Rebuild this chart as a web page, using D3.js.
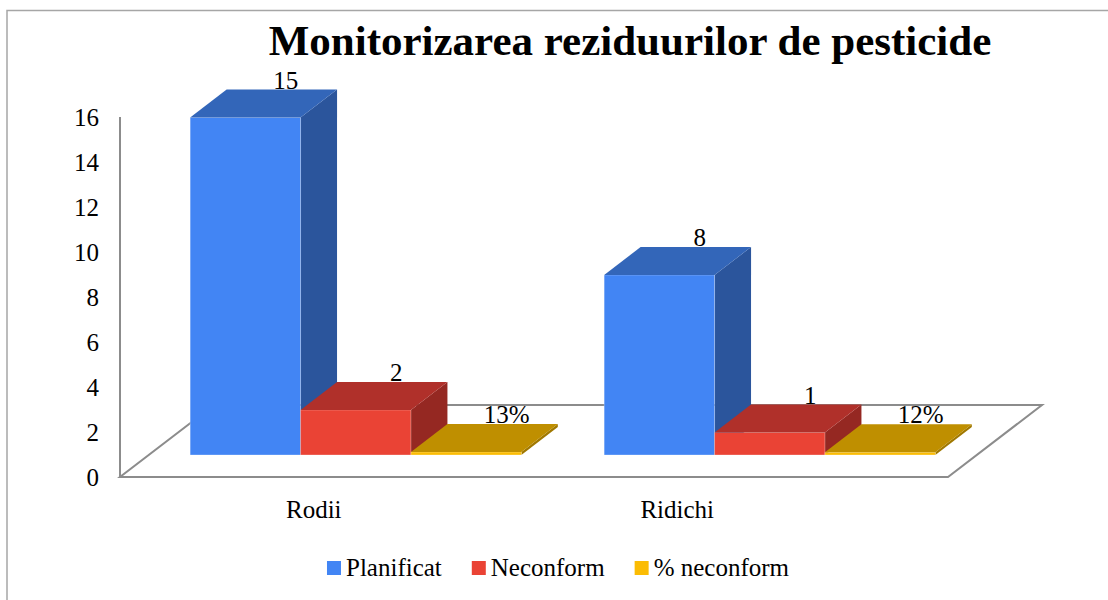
<!DOCTYPE html>
<html>
<head>
<meta charset="utf-8">
<script src="https://cdn.jsdelivr.net/npm/d3@7"></script>
<style>
  html, body { margin: 0; padding: 0; background: #fff; }
</style>
</head>
<body>
<svg id="chart" width="1108" height="600" font-family="Liberation Serif, Times New Roman, serif"></svg>
<script>
// data
const categories = ["Rodii", "Ridichi"];
const seriesNames = ["Planificat", "Neconform", "% neconform"];
const planificat = [15, 8];
const neconform = [2, 1];
const procentNeconform = [0.13, 0.12];
const yTickValues = [0, 2, 4, 6, 8, 10, 12, 14, 16];
const titleText = "Monitorizarea reziduurilor de pesticide";

const seriesValues = [planificat, neconform, procentNeconform];

// colours: front / top / side for each series
const colors = [
  { front: "#4285f4", top: "#3366b9", side: "#2b559c", legend: "#4285f4" },
  { front: "#ea4335", top: "#b0302a", side: "#952822", legend: "#ea4335" },
  { front: "#fbbc04", top: "#bf8f00", side: "#a07800", legend: "#fbbc04" }
];

const fontFamily = "Liberation Serif";

const svg = d3.select("#chart");

// regular label settings, set as attributes and as style
function label(sel) {
  return sel
    .attr("font-family", fontFamily)
    .attr("font-size", 25)
    .attr("font-weight", 400)
    .style("font-family", "'Liberation Serif', 'Times New Roman', serif");
}

// outer chart frame
svg.append("rect")
  .attr("x", 7).attr("y", 10.5)
  .attr("width", 1200).attr("height", 700)
  .attr("fill", "none")
  .attr("stroke", "#a6a6a6")
  .attr("stroke-width", 1.5);

// title
svg.append("text")
  .attr("x", 630).attr("y", 55)
  .attr("text-anchor", "middle")
  .attr("font-family", fontFamily)
  .attr("font-size", 43)
  .attr("font-weight", "bold")
  .text(titleText);

// 3D projection: floor front edge and depth vector
const floorLeft = 120, floorRight = 948;
const depthX = 94, depthY = 72;
const d0 = 0.306, d1 = 0.694;   // bars sit in the middle of the floor depth

const y = d3.scaleLinear().domain([0, 16]).range([477, 117]);

const x0 = d3.scaleBand().domain(categories).range([floorLeft, floorRight]);
const x1 = d3.scaleBand().domain(seriesNames)
  .range([x0.bandwidth() * 0.1, x0.bandwidth() * 0.9]);

const proj = (xf, v, d) => [xf + d * depthX, y(v) - d * depthY];
const poly = pts => pts.map(p => p.join(",")).join(" ");

// floor
svg.append("polygon")
  .attr("points", poly([
    proj(floorLeft, 0, 0), proj(floorRight, 0, 0),
    proj(floorRight, 0, 1), proj(floorLeft, 0, 1)
  ]))
  .attr("fill", "#fff")
  .attr("stroke", "#8c8c8c")
  .attr("stroke-width", 2);

// vertical axis line
svg.append("line")
  .attr("x1", floorLeft).attr("x2", floorLeft)
  .attr("y1", y(16)).attr("y2", y(0))
  .attr("stroke", "#8c8c8c")
  .attr("stroke-width", 2);

// y tick labels
label(svg.selectAll("text.ytick")
  .data(yTickValues)
  .enter().append("text"))
    .attr("class", "ytick")
    .attr("x", 99)
    .attr("y", d => y(d))
    .attr("dy", "0.34em")
    .attr("text-anchor", "end")
    .text(d => d);

// bars
const bars = [];
categories.forEach((c, ci) => {
  seriesNames.forEach((s, si) => {
    bars.push({ cat: c, series: s, si: si, value: seriesValues[si][ci] });
  });
});

const fmtPct = d3.format(".0%");

bars.forEach(b => {
  const xl = x0(b.cat) + x1(b.series);
  const xr = xl + x1.bandwidth();
  const v = b.value;
  const col = colors[b.si];
  const g = svg.append("g").attr("class", "bar");

  g.append("polygon")
    .attr("points", poly([proj(xr, 0, d0), proj(xr, 0, d1), proj(xr, v, d1), proj(xr, v, d0)]))
    .attr("fill", col.side);
  g.append("polygon")
    .attr("points", poly([proj(xl, 0, d0), proj(xr, 0, d0), proj(xr, v, d0), proj(xl, v, d0)]))
    .attr("fill", col.front)
    .attr("stroke", "rgba(255,255,255,0.35)")
    .attr("stroke-width", 0.8);
  g.append("polygon")
    .attr("points", poly([proj(xl, v, d0), proj(xr, v, d0), proj(xr, v, d1), proj(xl, v, d1)]))
    .attr("fill", col.top);

  const lbl = proj((xl + xr) / 2 + 4, v, d1);
  label(g.append("text"))
    .attr("x", lbl[0])
    .attr("y", lbl[1] - 1)
    .attr("text-anchor", "middle")
    .text(b.si === 2 ? fmtPct(v) : v);
});

// category labels (sit a little left of the band centres, as in the picture)
const xLabel = d3.scaleBand().domain(categories).range([132, 859]);
label(svg.selectAll("text.cat")
  .data(categories)
  .enter().append("text"))
    .attr("class", "cat")
    .attr("x", d => xLabel(d) + xLabel.bandwidth() / 2)
    .attr("y", 518)
    .attr("text-anchor", "middle")
    .text(d => d);

// legend
const legend = svg.append("g").attr("class", "legend");
const items = legend.selectAll("g.item")
  .data(seriesNames)
  .enter().append("g").attr("class", "item");
items.append("rect")
  .attr("width", 14).attr("height", 14)
  .attr("y", 561)
  .attr("fill", (d, i) => colors[i].legend);
label(items.append("text"))
  .attr("x", 19)
  .attr("y", 576)
  .text(d => d);

const widths = [];
items.each(function () {
  widths.push(d3.select(this).select("text").node().getComputedTextLength());
});
const total = d3.sum(widths) + widths.length * 19 + (widths.length - 1) * 30;
let cursor = 558 - total / 2;
items.attr("transform", (d, i) => {
  const t = `translate(${cursor},0)`;
  cursor += 19 + widths[i] + 30;
  return t;
});
</script>
</body>
</html>
